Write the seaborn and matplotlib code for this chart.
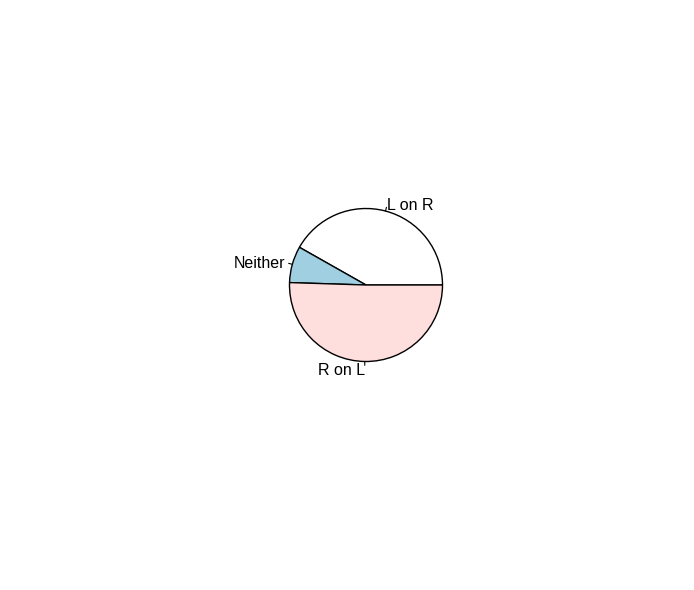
import numpy as np
import matplotlib
matplotlib.use("Agg")
import matplotlib.pyplot as plt
import seaborn as sns

labels = ["L on R", "Neither", "R on L"]
values = [41.8, 7.7, 50.5]
colors = ["#FFFFFF", "#9FCFE0", "#FFDEDE"]

sns.set_theme(style="white")
plt.rcParams['font.family'] = ['Liberation Sans', 'DejaVu Sans']

W, H = 694, 590
fig = plt.figure(figsize=(W / 100, H / 100), dpi=100)
ax = fig.add_axes([0, 0, 1, 1])

cx, cy, r = 366, H - 285, 76.5
ax.pie(values, colors=colors, center=(cx, cy), radius=r, startangle=0,
       counterclock=True, frame=True,
       wedgeprops=dict(edgecolor="black", linewidth=1.0))
ax.set_xlim(0, W)
ax.set_ylim(0, H)
ax.set_aspect("equal")
ax.axis("off")

tot = sum(values)
cum = np.cumsum([0] + values) / tot * 2 * np.pi
for i, lab in enumerate(labels):
    a = (cum[i] + cum[i + 1]) / 2
    c, s = np.cos(a), np.sin(a)
    ax.plot([cx + r * c, cx + 1.05 * r * c], [cy + r * s, cy + 1.05 * r * s],
            color="black", lw=0.8)
    ax.text(cx + 1.1 * r * c, cy + 1.1 * r * s - 1.5, lab, fontsize=11.5,
            ha="right" if c < 0 else "left", va="center", color="black")

fig.savefig("out.png", dpi=100, facecolor="white")
